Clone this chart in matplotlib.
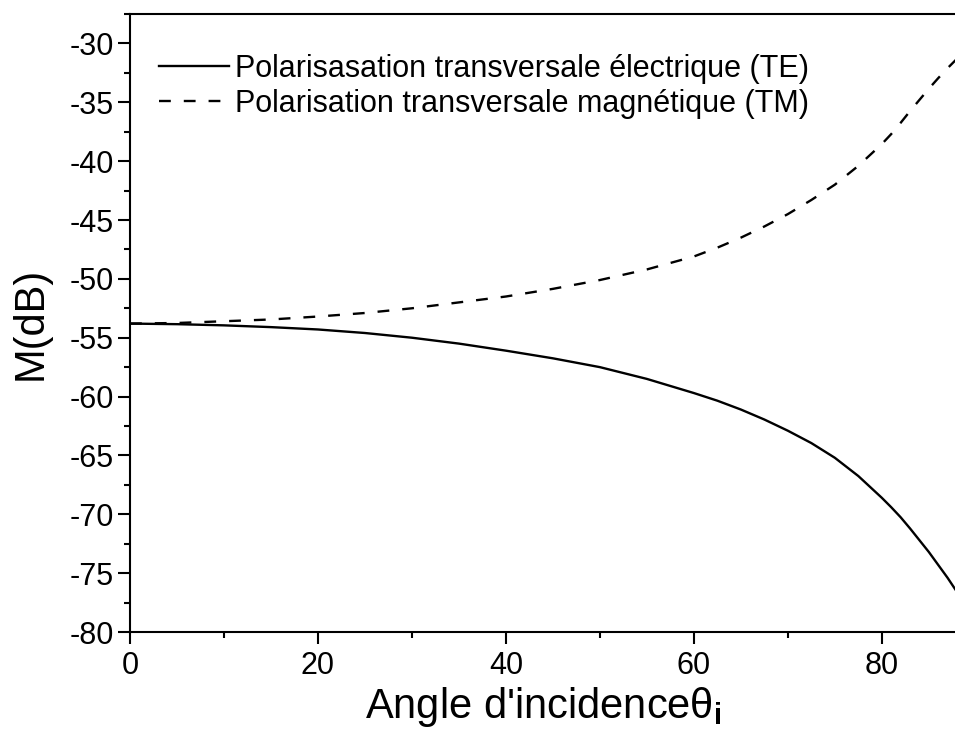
import matplotlib
matplotlib.use("Agg")
import matplotlib.pyplot as plt
from matplotlib.ticker import MultipleLocator

plt.rcParams["font.family"] = ["Liberation Sans", "DejaVu Sans"]
plt.rcParams["axes.unicode_minus"] = False
plt.rcParams["mathtext.fontset"] = "custom"
plt.rcParams["mathtext.rm"] = "Liberation Sans"
plt.rcParams["mathtext.it"] = "Liberation Sans:italic"
plt.rcParams["mathtext.bf"] = "Liberation Sans:bold"

# angle of incidence (degrees)
angles = [0, 5, 10, 15, 20, 25, 30, 35, 40, 45, 50, 55, 60, 62.5, 65, 67.5, 70,
          72.5, 75, 77.5, 80, 81, 82, 83, 84, 85, 86, 87, 88]

# M (dB), TE polarisation
m_te = [-53.8, -53.85, -53.95, -54.1, -54.3, -54.6, -55.0, -55.5, -56.1, -56.75,
        -57.5, -58.5, -59.7, -60.35, -61.1, -61.95, -62.9, -63.95, -65.2, -66.75,
        -68.6, -69.4, -70.25, -71.2, -72.2, -73.2, -74.3, -75.4, -76.6]

# M (dB), TM polarisation
m_tm = [-53.8, -53.75, -53.6, -53.45, -53.2, -52.9, -52.5, -52.0, -51.5, -50.85,
        -50.1, -49.2, -48.1, -47.35, -46.5, -45.55, -44.5, -43.3, -42.0, -40.4,
        -38.55, -37.7, -36.75, -35.75, -34.8, -33.85, -32.95, -32.1, -31.3]

label_te = "Polarisasation transversale électrique (TE)"
label_tm = "Polarisation transversale magnétique (TM)"

fig = plt.figure(figsize=(9.55, 7.29), dpi=100)
ax = fig.add_axes([130 / 955, 97 / 729, 827 / 955, 618 / 729])

ax.plot(angles, m_te, color="black", linewidth=1.7, label=label_te)
ax.plot(angles, m_tm, color="black", linewidth=1.7, linestyle=(0, (5, 5.5)), label=label_tm)

ax.set_xlim(0, 88)
ax.set_ylim(-80, -27.5)
ax.xaxis.set_major_locator(MultipleLocator(20))
ax.xaxis.set_minor_locator(MultipleLocator(10))
ax.yaxis.set_major_locator(MultipleLocator(5))
ax.yaxis.set_minor_locator(MultipleLocator(2.5))

for side in ["left", "bottom", "top", "right"]:
    ax.spines[side].set_linewidth(1.5)
ax.spines["right"].set_visible(False)

ax.tick_params(which="major", direction="out", length=8.5, width=1.5, labelsize=22)
ax.tick_params(which="minor", direction="out", length=4, width=1.5)
ax.tick_params(axis="y", which="major", pad=3)
ax.tick_params(axis="x", which="major", pad=5)
ax.tick_params(top=False, right=False, which="both")

ax.set_xlabel(r"Angle d'incidence$\mathregular{\theta}_{\mathbf{i}}$", fontsize=30, labelpad=3)
ax.set_ylabel("M(dB)", fontsize=30, labelpad=14)

ax.legend(loc="upper left", bbox_to_anchor=(0.013, 0.965), frameon=False, fontsize=22,
          handlelength=2.3, handletextpad=0.2, labelspacing=0.15, borderaxespad=0.2)

fig.savefig("out.png", dpi=100)
